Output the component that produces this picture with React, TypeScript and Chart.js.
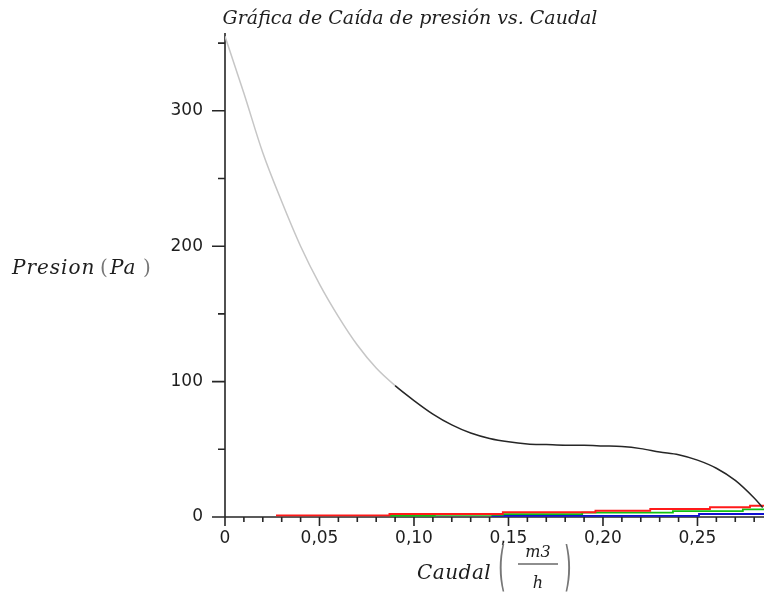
import React, { useEffect, useRef } from 'react';
import { Chart, registerables } from 'chart.js';

Chart.register(...registerables);

// ---- data ----
const titleText = 'Gráfica de Caída de presión vs. Caudal';
const yTitleMain = 'Presion';
const yTitleUnit = 'Pa';
const xTitleMain = 'Caudal';
const xUnitNum = 'm3';
const xUnitDen = 'h';

const caudal = [0, 0.01, 0.02, 0.03, 0.04, 0.05, 0.06, 0.07, 0.08, 0.09, 0.1, 0.11, 0.12, 0.13, 0.14, 0.15, 0.16, 0.17, 0.18, 0.19, 0.2, 0.21, 0.22, 0.23, 0.24, 0.25, 0.26, 0.27, 0.28, 0.2845];
const presion = [355, 313, 269, 233, 200, 172, 148, 127, 110, 97, 86, 76, 68, 62, 58, 55.5, 54, 53.5, 53, 53, 52.5, 52, 50.5, 48, 46, 42, 36, 27, 14, 7];

const redX = [0.027, 0.087, 0.147, 0.196, 0.225, 0.2566, 0.2778, 0.2852];
const redY = [1.2, 2.2, 3.5, 4.6, 5.9, 7.2, 8.3, 8.3];
const greenX = [0.087, 0.111, 0.147, 0.189, 0.237, 0.274, 0.2852];
const greenY = [1.0, 1.6, 2.1, 3.2, 4.4, 5.7, 5.7];
const blueX = [0.141, 0.2508, 0.2852];
const blueY = [0.8, 2.2, 2.2];

const xTickValues = [0, 0.05, 0.1, 0.15, 0.2, 0.25];
const xTickLabels = ['0', '0,05', '0,10', '0,15', '0,20', '0,25'];
const xMinorTicks = [0.01, 0.02, 0.03, 0.04, 0.06, 0.07, 0.08, 0.09, 0.11, 0.12, 0.13, 0.14, 0.16, 0.17, 0.18, 0.19, 0.21, 0.22, 0.23, 0.24, 0.26, 0.27, 0.28];
const yTickValues = [0, 100, 200, 300];
const yTickLabels = ['0', '100', '200', '300'];
const yMinorTicks = [50, 150, 250, 350];
const X_MAX = 0.2852;
const Y_MAX = 356;

// ---- styles ----
const AXIS = '#262626';
const TEXT = '#1e1e1e';
const GRAY_SPLIT = 0.09;

const toPts = (xs: number[], ys: number[]) => xs.map((x, i) => ({ x, y: ys[i] }));

const deco = {
  id: 'mapleDeco',
  beforeDatasetsDraw(chart: any) {
    const ctx = chart.ctx;
    const xs = chart.scales.x;
    const ys = chart.scales.y;
    const x0 = xs.getPixelForValue(0);
    const y0 = ys.getPixelForValue(0);
    ctx.save();
    ctx.strokeStyle = AXIS;
    ctx.lineWidth = 1.6;
    ctx.beginPath();
    ctx.moveTo(x0, ys.getPixelForValue(Y_MAX) - 2);
    ctx.lineTo(x0, y0 + 9);
    ctx.moveTo(x0 - 13, y0);
    ctx.lineTo(xs.getPixelForValue(X_MAX), y0);
    yTickValues.forEach((v) => {
      const p = ys.getPixelForValue(v);
      ctx.moveTo(x0 - 13, p);
      ctx.lineTo(x0, p);
    });
    yMinorTicks.forEach((v) => {
      const p = ys.getPixelForValue(v);
      ctx.moveTo(x0 - 7, p);
      ctx.lineTo(x0, p);
    });
    xTickValues.forEach((v) => {
      const p = xs.getPixelForValue(v);
      ctx.moveTo(p, y0);
      ctx.lineTo(p, y0 + 9);
    });
    xMinorTicks.forEach((v) => {
      const p = xs.getPixelForValue(v);
      ctx.moveTo(p, y0);
      ctx.lineTo(p, y0 + 5);
    });
    ctx.stroke();
    ctx.restore();
  },
  afterDraw(chart: any) {
    const ctx = chart.ctx;
    ctx.save();
    ctx.fillStyle = TEXT;
    ctx.textBaseline = 'alphabetic';
    // title
    ctx.font = "italic 19px 'DejaVu Serif'";
    ctx.textAlign = 'center';
    ctx.fillText(titleText, 410, 24);
    // y title
    ctx.textAlign = 'left';
    ctx.font = "italic 20px 'DejaVu Serif'";
    (ctx as any).letterSpacing = '1px';
    ctx.fillText(yTitleMain, 12, 274);
    ctx.fillText(yTitleUnit, 110, 274);
    (ctx as any).letterSpacing = '0px';
    ctx.font = "20px 'DejaVu Serif'";
    ctx.fillStyle = '#777';
    ctx.fillText('(', 100, 274);
    ctx.fillText(')', 143, 274);
    ctx.fillStyle = TEXT;
    // x title
    ctx.font = "italic 20px 'DejaVu Serif'";
    (ctx as any).letterSpacing = '0.5px';
    ctx.fillText(xTitleMain, 417, 579);
    (ctx as any).letterSpacing = '0px';
    ctx.textAlign = 'center';
    ctx.font = "italic 16px 'DejaVu Serif'";
    ctx.fillText(xUnitNum, 538, 557);
    ctx.fillText(xUnitDen, 538, 588);
    ctx.strokeStyle = TEXT;
    ctx.lineWidth = 1.2;
    ctx.beginPath();
    ctx.moveTo(518, 564);
    ctx.lineTo(558, 564);
    ctx.stroke();
    // tall parentheses
    ctx.fillStyle = '#777';
    ctx.font = "20px 'DejaVu Sans'";
    ctx.save();
    ctx.translate(0, 566);
    ctx.scale(1, 2.7);
    ctx.fillText('(', 502, 7);
    ctx.fillText(')', 568, 7);
    ctx.restore();
    ctx.restore();
  },
};

export default function App() {
  const ref = useRef<HTMLCanvasElement | null>(null);
  useEffect(() => {
    document.body.style.margin = '0';
    document.body.style.overflow = 'hidden';
    if (!ref.current) return;
    const chart = new Chart(ref.current, {
      type: 'line',
      data: {
        datasets: [
          {
            label: 'Caída de presión',
            data: toPts(caudal, presion),
            borderColor: '#222',
            borderWidth: 1.5,
            pointRadius: 0,
            cubicInterpolationMode: 'monotone',
            segment: {
              borderColor: (c: any) => (c.p1.parsed.x <= GRAY_SPLIT ? '#c6c6c6' : '#262626'),
            },
          },
          { label: 'r', data: toPts(redX, redY), borderColor: '#ff1a1a', borderWidth: 1.8, pointRadius: 0, stepped: true },
          { label: 'g', data: toPts(greenX, greenY), borderColor: '#10c010', borderWidth: 1.8, pointRadius: 0, stepped: true },
          { label: 'b', data: toPts(blueX, blueY), borderColor: '#1010d0', borderWidth: 1.8, pointRadius: 0, stepped: true },
        ],
      },
      options: {
        animation: false,
        responsive: false,
        devicePixelRatio: 1,
        layout: { padding: { top: 35, right: 0, left: 0, bottom: 0 } },
        plugins: { legend: { display: false }, tooltip: { enabled: false } },
        scales: {
          x: {
            type: 'linear',
            min: 0,
            max: X_MAX,
            grid: { display: false, drawTicks: false },
            border: { display: false },
            ticks: {
              includeBounds: false,
              padding: 11,
              color: TEXT,
              font: { family: "'DejaVu Sans'", size: 17 },
              maxRotation: 0,
              autoSkip: false,
              callback: (v: any) => xTickLabels[xTickValues.indexOf(Number(v))] ?? '',
            },
            afterBuildTicks: (s: any) => {
              s.ticks = xTickValues.map((value) => ({ value }));
            },
            afterFit: (s: any) => {
              s.height = 81;
            },
          },
          y: {
            type: 'linear',
            min: 0,
            max: Y_MAX,
            grid: { display: false, drawTicks: false },
            border: { display: false },
            ticks: {
              includeBounds: false,
              padding: 22,
              color: TEXT,
              font: { family: "'DejaVu Sans'", size: 17 },
              autoSkip: false,
              callback: (v: any) => yTickLabels[yTickValues.indexOf(Number(v))] ?? '',
            },
            afterBuildTicks: (s: any) => {
              s.ticks = yTickValues.map((value) => ({ value }));
            },
            afterFit: (s: any) => {
              s.width = 225;
            },
          },
        },
      },
      plugins: [deco],
    });
    return () => chart.destroy();
  }, []);
  return <canvas ref={ref} width={764} height={598} style={{ display: 'block' }} />;
}
